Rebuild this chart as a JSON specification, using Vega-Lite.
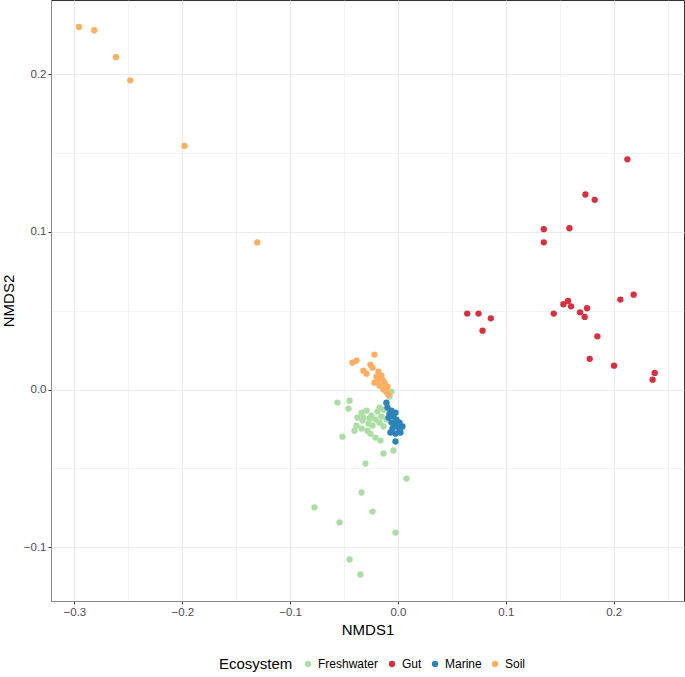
{
  "$schema": "https://vega.github.io/schema/vega-lite/v6.json",
  "width": 633,
  "height": 601,
  "autosize": {"type": "none"},
  "padding": {"left": 51, "top": 0, "right": 1, "bottom": 76},
  "background": "white",
  "config": {
    "font": "Liberation Sans",
    "view": {"stroke": "#333333", "strokeWidth": 1},
    "axis": {
      "domainColor": "#8a8a8a",
      "tickColor": "#333333",
      "tickSize": 3,
      "labelColor": "#4d4d4d",
      "labelFontSize": 11.5,
      "labelPadding": 2,
      "titleFontSize": 15,
      "titleFontWeight": "normal",
      "titleColor": "black",
      "gridColor": "#ebebeb"
    }
  },
  "data": {"values": [
    {"x": -0.0561, "y": -0.0082, "g": "Freshwater"},
    {"x": -0.0449, "y": -0.0070, "g": "Freshwater"},
    {"x": -0.0459, "y": -0.0120, "g": "Freshwater"},
    {"x": -0.0514, "y": -0.0298, "g": "Freshwater"},
    {"x": -0.0338, "y": -0.0146, "g": "Freshwater"},
    {"x": -0.0292, "y": -0.0133, "g": "Freshwater"},
    {"x": -0.0246, "y": -0.0165, "g": "Freshwater"},
    {"x": -0.0375, "y": -0.0177, "g": "Freshwater"},
    {"x": -0.0329, "y": -0.0196, "g": "Freshwater"},
    {"x": -0.0273, "y": -0.0215, "g": "Freshwater"},
    {"x": -0.0385, "y": -0.0228, "g": "Freshwater"},
    {"x": -0.0338, "y": -0.0247, "g": "Freshwater"},
    {"x": -0.0283, "y": -0.0260, "g": "Freshwater"},
    {"x": -0.0236, "y": -0.0228, "g": "Freshwater"},
    {"x": -0.0209, "y": -0.0190, "g": "Freshwater"},
    {"x": -0.0190, "y": -0.0139, "g": "Freshwater"},
    {"x": -0.0171, "y": -0.0114, "g": "Freshwater"},
    {"x": -0.0134, "y": -0.0127, "g": "Freshwater"},
    {"x": -0.0107, "y": -0.0089, "g": "Freshwater"},
    {"x": -0.0079, "y": -0.0044, "g": "Freshwater"},
    {"x": -0.0060, "y": -0.0013, "g": "Freshwater"},
    {"x": -0.0153, "y": -0.0171, "g": "Freshwater"},
    {"x": -0.0171, "y": -0.0209, "g": "Freshwater"},
    {"x": -0.0134, "y": -0.0234, "g": "Freshwater"},
    {"x": -0.0107, "y": -0.0190, "g": "Freshwater"},
    {"x": -0.0209, "y": -0.0304, "g": "Freshwater"},
    {"x": -0.0162, "y": -0.0323, "g": "Freshwater"},
    {"x": -0.0134, "y": -0.0405, "g": "Freshwater"},
    {"x": -0.0042, "y": -0.0386, "g": "Freshwater"},
    {"x": -0.0301, "y": -0.0469, "g": "Freshwater"},
    {"x": 0.0079, "y": -0.0564, "g": "Freshwater"},
    {"x": -0.0338, "y": -0.0652, "g": "Freshwater"},
    {"x": -0.0774, "y": -0.0747, "g": "Freshwater"},
    {"x": -0.0236, "y": -0.0773, "g": "Freshwater"},
    {"x": -0.0542, "y": -0.0842, "g": "Freshwater"},
    {"x": -0.0023, "y": -0.0906, "g": "Freshwater"},
    {"x": -0.0449, "y": -0.1077, "g": "Freshwater"},
    {"x": -0.0348, "y": -0.1172, "g": "Freshwater"},
    {"x": -0.0403, "y": -0.0260, "g": "Freshwater"},
    {"x": -0.0255, "y": -0.0279, "g": "Freshwater"},
    {"x": -0.0320, "y": -0.0177, "g": "Freshwater"},
    {"x": -0.0264, "y": -0.0184, "g": "Freshwater"},
    {"x": -0.2958, "y": 0.2299, "g": "Soil"},
    {"x": -0.2816, "y": 0.2278, "g": "Soil"},
    {"x": -0.2615, "y": 0.2107, "g": "Soil"},
    {"x": -0.2482, "y": 0.1961, "g": "Soil"},
    {"x": -0.1979, "y": 0.1545, "g": "Soil"},
    {"x": -0.1305, "y": 0.0933, "g": "Soil"},
    {"x": -0.0218, "y": 0.0222, "g": "Soil"},
    {"x": -0.0422, "y": 0.0171, "g": "Soil"},
    {"x": -0.0385, "y": 0.0184, "g": "Soil"},
    {"x": -0.0255, "y": 0.0158, "g": "Soil"},
    {"x": -0.0320, "y": 0.0120, "g": "Soil"},
    {"x": -0.0236, "y": 0.0139, "g": "Soil"},
    {"x": -0.0181, "y": 0.0114, "g": "Soil"},
    {"x": -0.0292, "y": 0.0101, "g": "Soil"},
    {"x": -0.0199, "y": 0.0082, "g": "Soil"},
    {"x": -0.0153, "y": 0.0089, "g": "Soil"},
    {"x": -0.0218, "y": 0.0044, "g": "Soil"},
    {"x": -0.0144, "y": 0.0063, "g": "Soil"},
    {"x": -0.0171, "y": 0.0025, "g": "Soil"},
    {"x": -0.0125, "y": 0.0044, "g": "Soil"},
    {"x": -0.0097, "y": 0.0019, "g": "Soil"},
    {"x": -0.0134, "y": 0.0000, "g": "Soil"},
    {"x": -0.0107, "y": -0.0013, "g": "Soil"},
    {"x": -0.0088, "y": -0.0032, "g": "Soil"},
    {"x": -0.0190, "y": 0.0057, "g": "Soil"},
    {"x": -0.0116, "y": 0.0013, "g": "Soil"},
    {"x": 0.2127, "y": 0.1460, "g": "Gut"},
    {"x": 0.1738, "y": 0.1237, "g": "Gut"},
    {"x": 0.1824, "y": 0.1203, "g": "Gut"},
    {"x": 0.1352, "y": 0.1017, "g": "Gut"},
    {"x": 0.1590, "y": 0.1023, "g": "Gut"},
    {"x": 0.1352, "y": 0.0934, "g": "Gut"},
    {"x": 0.2185, "y": 0.0602, "g": "Gut"},
    {"x": 0.2062, "y": 0.0571, "g": "Gut"},
    {"x": 0.1577, "y": 0.0562, "g": "Gut"},
    {"x": 0.1534, "y": 0.0541, "g": "Gut"},
    {"x": 0.1605, "y": 0.0528, "g": "Gut"},
    {"x": 0.1753, "y": 0.0516, "g": "Gut"},
    {"x": 0.1688, "y": 0.0490, "g": "Gut"},
    {"x": 0.1731, "y": 0.0461, "g": "Gut"},
    {"x": 0.1444, "y": 0.0482, "g": "Gut"},
    {"x": 0.0642, "y": 0.0482, "g": "Gut"},
    {"x": 0.0747, "y": 0.0482, "g": "Gut"},
    {"x": 0.0861, "y": 0.0452, "g": "Gut"},
    {"x": 0.0784, "y": 0.0374, "g": "Gut"},
    {"x": 0.1849, "y": 0.0338, "g": "Gut"},
    {"x": 0.1778, "y": 0.0195, "g": "Gut"},
    {"x": 0.2003, "y": 0.0152, "g": "Gut"},
    {"x": 0.2380, "y": 0.0106, "g": "Gut"},
    {"x": 0.2361, "y": 0.0063, "g": "Gut"},
    {"x": -0.0107, "y": -0.0082, "g": "Marine"},
    {"x": -0.0097, "y": -0.0114, "g": "Marine"},
    {"x": -0.0079, "y": -0.0152, "g": "Marine"},
    {"x": -0.0088, "y": -0.0177, "g": "Marine"},
    {"x": -0.0042, "y": -0.0171, "g": "Marine"},
    {"x": -0.0014, "y": -0.0190, "g": "Marine"},
    {"x": -0.0060, "y": -0.0209, "g": "Marine"},
    {"x": -0.0032, "y": -0.0222, "g": "Marine"},
    {"x": 0.0014, "y": -0.0209, "g": "Marine"},
    {"x": 0.0042, "y": -0.0234, "g": "Marine"},
    {"x": -0.0005, "y": -0.0234, "g": "Marine"},
    {"x": -0.0051, "y": -0.0247, "g": "Marine"},
    {"x": 0.0014, "y": -0.0253, "g": "Marine"},
    {"x": -0.0070, "y": -0.0272, "g": "Marine"},
    {"x": -0.0023, "y": -0.0279, "g": "Marine"},
    {"x": 0.0023, "y": -0.0272, "g": "Marine"},
    {"x": -0.0023, "y": -0.0329, "g": "Marine"},
    {"x": -0.0060, "y": -0.0133, "g": "Marine"},
    {"x": -0.0023, "y": -0.0146, "g": "Marine"}
  ]},
  "mark": {"type": "point", "filled": true, "opacity": 1, "size": 40},
  "encoding": {
    "x": {
      "field": "x", "type": "quantitative",
      "scale": {"domain": [-0.3217, 0.2652], "nice": false, "zero": false},
      "axis": {
        "title": "NMDS1",
        "values": [-0.3, -0.25, -0.2, -0.15, -0.1, -0.05, 0, 0.05, 0.1, 0.15, 0.2, 0.25],
        "format": ".1f",
        "labelExpr": "abs(round(datum.value*10) - datum.value*10) > 0.1 ? '' : datum.label",
        "tickOpacity": {"condition": {"test": "abs(round(datum.value*10) - datum.value*10) > 0.1", "value": 0}, "value": 1},
        "gridWidth": {"condition": {"test": "abs(round(datum.value*10) - datum.value*10) > 0.1", "value": 0.6}, "value": 1.1},
        "titlePadding": 5
      }
    },
    "y": {
      "field": "y", "type": "quantitative",
      "scale": {"domain": [-0.134, 0.247], "nice": false, "zero": false},
      "axis": {
        "title": "NMDS2",
        "values": [-0.1, -0.05, 0, 0.05, 0.1, 0.15, 0.2],
        "format": ".1f",
        "labelExpr": "abs(round(datum.value*10) - datum.value*10) > 0.1 ? '' : datum.label",
        "tickOpacity": {"condition": {"test": "abs(round(datum.value*10) - datum.value*10) > 0.1", "value": 0}, "value": 1},
        "gridWidth": {"condition": {"test": "abs(round(datum.value*10) - datum.value*10) > 0.1", "value": 0.6}, "value": 1.1},
        "titlePadding": 7
      }
    },
    "color": {
      "field": "g", "type": "nominal",
      "scale": {"domain": ["Freshwater", "Gut", "Marine", "Soil"], "range": ["#abdda4", "#d7303f", "#2b83ba", "#fdae61"]},
      "legend": {
        "title": "Ecosystem",
        "orient": "none",
        "legendX": 168,
        "legendY": 658,
        "direction": "horizontal",
        "titleOrient": "left",
        "titleFontSize": 15,
        "titleFontWeight": "normal",
        "titleColor": "black",
        "titlePadding": 9,
        "labelFontSize": 12,
        "labelColor": "black",
        "labelOffset": 4,
        "columnPadding": 7,
        "symbolSize": 40,
        "symbolType": "circle",
        "symbolStrokeWidth": 0
      }
    },
    "order": {"field": "g", "type": "nominal", "sort": "ascending"}
  }
}
